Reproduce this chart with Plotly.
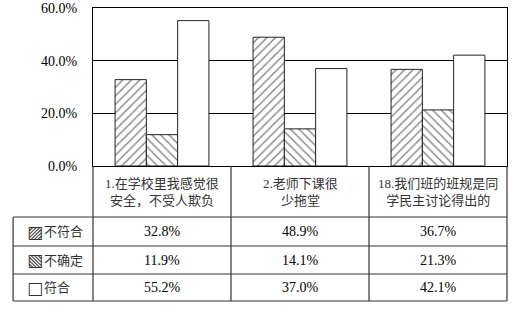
import plotly.graph_objects as go

categories = ["1.在学校里我感觉很<br>安全，不受人欺负", "2.老师下课很<br>少拖堂", "18.我们班的班规是同<br>学民主讨论得出的"]
series_names = ["不符合", "不确定", "符合"]
v_bufuhe = [32.8, 48.9, 36.7]
v_buqueding = [11.9, 14.1, 21.3]
v_fuhe = [55.2, 37.0, 42.1]
y_ticks = [0, 20, 40, 60]

W, H = 512, 310
L, R, T, B = 93, 507.5, 8, 166  # plot area in px
FONT = "Liberation Serif, Noto Sans CJK SC, DejaVu Sans"

def py(p):  # pixel y -> paper y
    return (B - p) / (B - T)

def px(p):  # pixel x -> paper x
    return (p - L) / (R - L)

xs = list(range(len(categories)))
fig = go.Figure()
styles = ["/", "\\", ""]
for name, vals, shape in zip(series_names, [v_bufuhe, v_buqueding, v_fuhe], styles):
    fig.add_trace(go.Bar(
        x=xs, y=vals, name=name,
        marker=dict(color="white", line=dict(color="#222222", width=1),
                    pattern=dict(shape=shape, fgcolor="#000000", bgcolor="white", size=6, solidity=0.22)),
    ))

fig.update_layout(
    width=W, height=H, margin=dict(l=L, r=W - R, t=T, b=H - B, pad=0, autoexpand=False),
    paper_bgcolor="white", plot_bgcolor="white",
    barmode="group", bargap=0.32, bargroupgap=0,
    showlegend=False,
    font=dict(family=FONT, size=13, color="black"),
    xaxis=dict(range=[-0.5, 2.5], showticklabels=False, ticks="", showgrid=False, automargin=False,
               zeroline=False, showline=True, linecolor="black", linewidth=1, mirror=True),
    yaxis=dict(range=[0, 60], tickvals=y_ticks, ticktext=[f"{v:.1f}%" for v in y_ticks],
               showgrid=True, gridcolor="black", gridwidth=1, zeroline=False, automargin=False,
               showline=True, linecolor="black", linewidth=1, mirror=True,
               ticks="outside", ticklen=12, tickcolor="rgba(0,0,0,0)",
               tickfont=dict(family=FONT, size=14)),
)

shapes = []
line = dict(color="#333333", width=1.2)
row_y = [217, 246, 274, 301]
for yy in row_y:
    shapes.append(dict(type="line", xref="paper", yref="paper", x0=px(13), x1=1, y0=py(yy), y1=py(yy), line=line))
shapes.append(dict(type="line", xref="paper", yref="paper", x0=px(13), x1=px(13), y0=py(217), y1=py(301), line=line))
shapes.append(dict(type="line", xref="paper", yref="paper", x0=0, x1=0, y0=py(166), y1=py(301), line=line))
shapes.append(dict(type="line", xref="paper", yref="paper", x0=1, x1=1, y0=py(166), y1=py(301), line=line))
for b in [0.5, 1.5]:
    shapes.append(dict(type="line", xref="x", yref="paper", x0=b, x1=b, y0=py(166), y1=py(301), line=line))
fig.update_layout(shapes=shapes)

ann = []
for i, c in enumerate(categories):
    ann.append(dict(x=i, xref="x", y=py(192), yref="paper", text=c, showarrow=False,
                    font=dict(size=13, color="#333333"), align="center", xanchor="center", yanchor="middle"))
icons = ["▨", "▧", "□"]
row_centers = [231.5, 260, 287.5]
for name, icon, vals, yc in zip(series_names, icons, [v_bufuhe, v_buqueding, v_fuhe], row_centers):
    ann.append(dict(x=px(25), xref="paper", y=py(yc), yref="paper", text=icon, showarrow=False,
                    xanchor="left", yanchor="middle", font=dict(family="DejaVu Sans", size=17, color="#333333")))
    ann.append(dict(x=px(42), xref="paper", y=py(yc), yref="paper", text=name, showarrow=False,
                    xanchor="left", yanchor="middle", font=dict(size=13, color="#333333")))
    for i, v in enumerate(vals):
        ann.append(dict(x=i, xref="x", y=py(yc), yref="paper", text=f"{v:.1f}%", showarrow=False,
                        xanchor="center", yanchor="middle", font=dict(size=14, color="black")))
fig.update_layout(annotations=ann)

fig.write_html("out.html")
